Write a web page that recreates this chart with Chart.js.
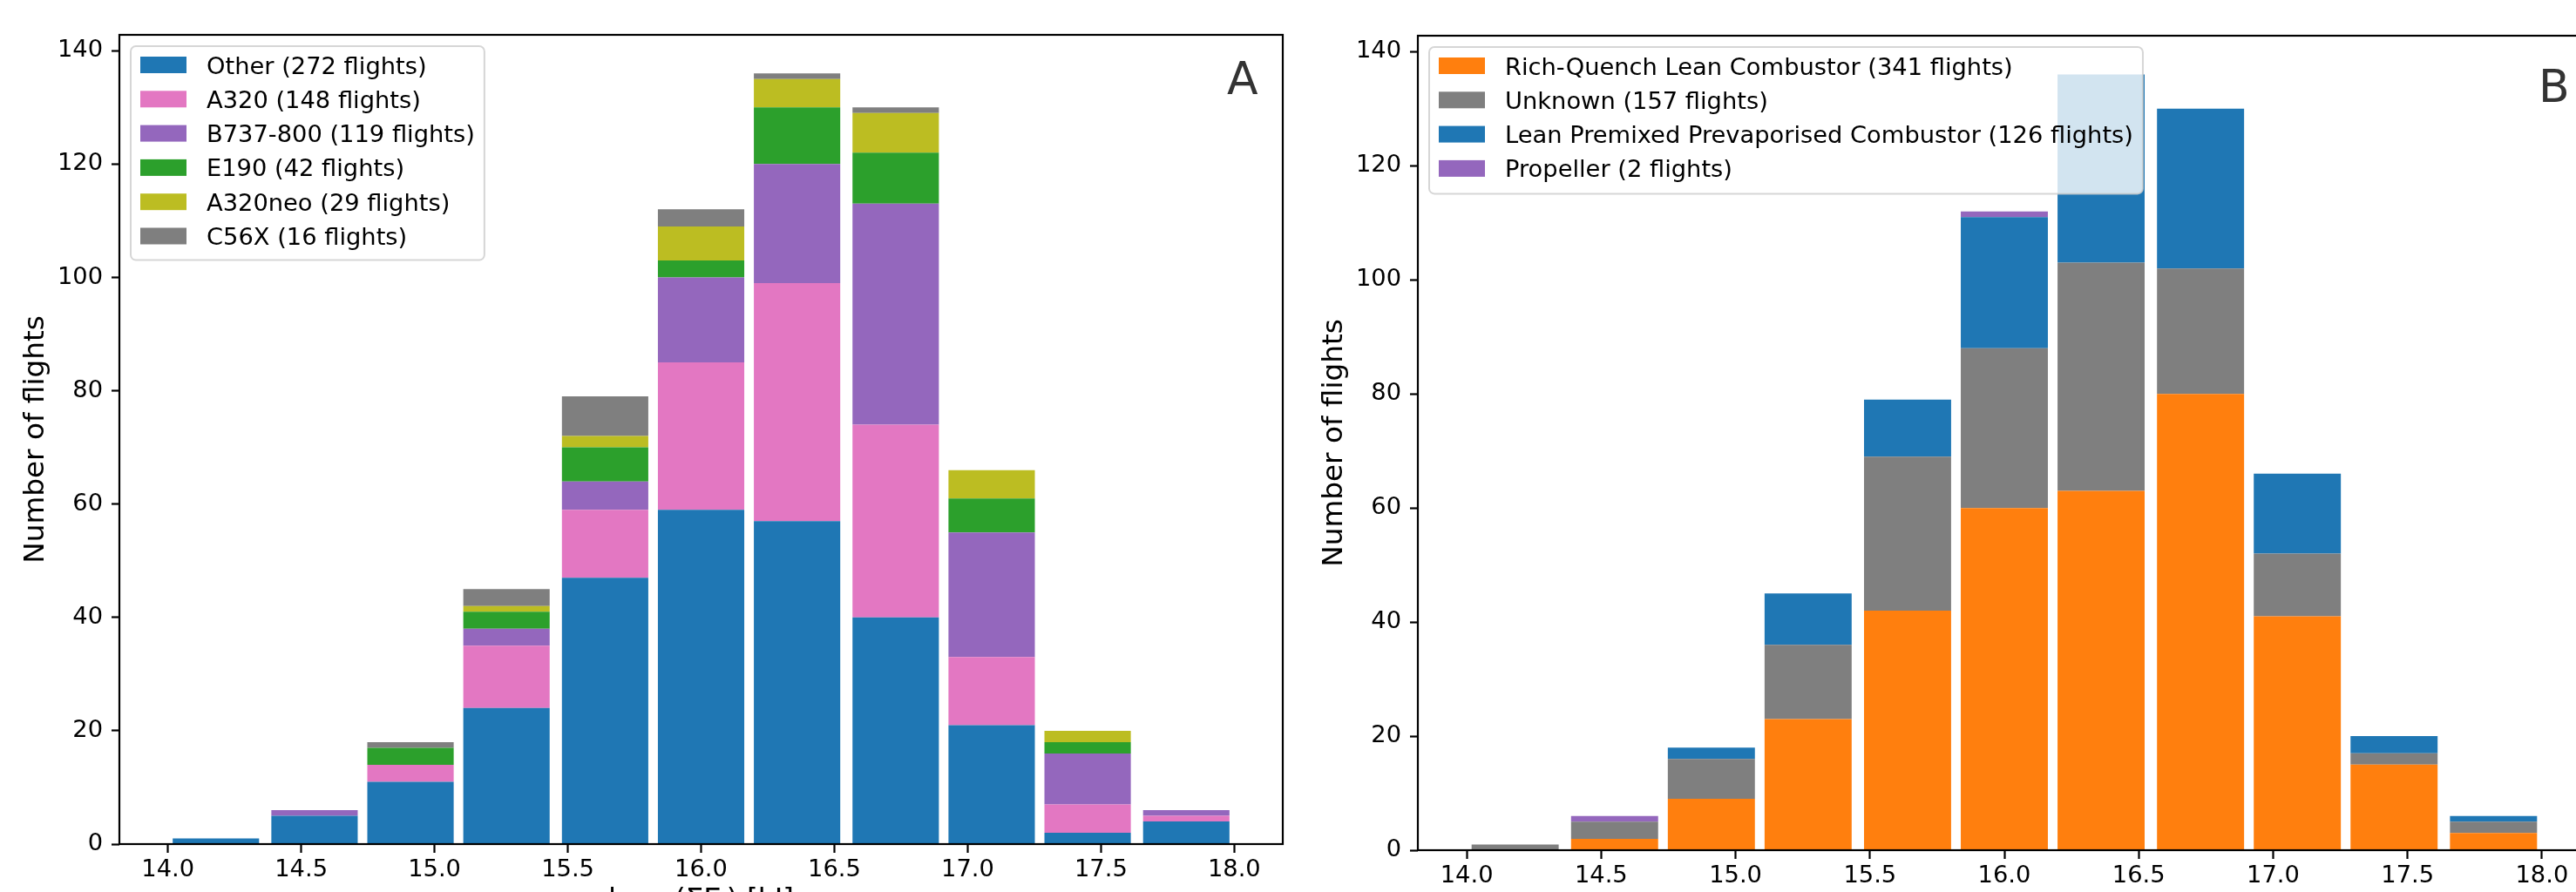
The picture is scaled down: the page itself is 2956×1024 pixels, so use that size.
<!DOCTYPE html>
<html>
<head>
<meta charset="utf-8">
<script src="https://cdn.jsdelivr.net/npm/chart.js@4/dist/chart.umd.min.js"></script>
<style>
html,body{margin:0;padding:0;background:#fff;}
#root{position:relative;width:2956px;height:1024px;overflow:hidden;background:#fff;}
.panel{position:absolute;top:0;}
#wrapA{left:0px;}
#wrapB{left:1490px;}
</style>
</head>
<body>
<div id="root">
  <div class="panel" id="wrapA"><canvas id="cA" width="1500" height="1080"></canvas></div>
  <div class="panel" id="wrapB"><canvas id="cB" width="1511" height="1087"></canvas></div>
</div>
<script>
// ---------- data ----------
const binCenters = [14.18, 14.55, 14.91, 15.27, 15.64, 16.00, 16.36, 16.73, 17.09, 17.45, 17.82];
const xTickValues = [14.0, 14.5, 15.0, 15.5, 16.0, 16.5, 17.0, 17.5, 18.0];
const yTickValues = [0, 20, 40, 60, 80, 100, 120, 140];
const yAxisTitle = 'Number of flights';
const xAxisTitle = 'log\u2081\u2080(\u03A3E\u1d62) [kJ]';

// Panel A: aircraft type
const aircraftLabels = ['Other (272 flights)', 'A320 (148 flights)', 'B737-800 (119 flights)',
                        'E190 (42 flights)', 'A320neo (29 flights)', 'C56X (16 flights)'];
const otherCounts   = [1, 5, 11, 24, 47, 59, 57, 40, 21, 2, 4];
const a320Counts    = [0, 0, 3, 11, 12, 26, 42, 34, 12, 5, 1];
const b737Counts    = [0, 1, 0, 3, 5, 15, 21, 39, 22, 9, 1];
const e190Counts    = [0, 0, 3, 3, 6, 3, 10, 9, 6, 2, 0];
const a320neoCounts = [0, 0, 0, 1, 2, 6, 5, 7, 5, 2, 0];
const c56xCounts    = [0, 0, 1, 3, 7, 3, 1, 1, 0, 0, 0];

// Panel B: combustor type
const combustorLabels = ['Rich-Quench Lean Combustor (341 flights)', 'Unknown (157 flights)',
                         'Lean Premixed Prevaporised Combustor (126 flights)', 'Propeller (2 flights)'];
const richQuenchCounts   = [0, 2, 9, 23, 42, 60, 63, 80, 41, 15, 3];
const unknownCounts      = [1, 3, 7, 13, 27, 28, 40, 22, 11, 2, 2];
const leanPremixedCounts = [0, 0, 2, 9, 10, 23, 33, 28, 14, 3, 1];
const propellerCounts    = [0, 1, 0, 0, 0, 1, 0, 0, 0, 0, 0];

// ---------- styles ----------
const C = {blue:'#1f77b4', orange:'#ff7f0e', green:'#2ca02c', purple:'#9467bd',
           pink:'#e377c2', gray:'#7f7f7f', olive:'#bcbd22'};
const FONT = '"DejaVu Sans", "Liberation Sans", sans-serif';
const TICK_SIZE = 27.3;
const LABEL_SIZE = 32.7;

function toPoints(vals) { return binCenters.map((c, i) => ({x: c, y: vals[i]})); }

const mplDecor = {
  id: 'mplDecor',
  afterDatasetsDraw(chart, args, o) {
    const {ctx, chartArea: a} = chart;
    ctx.save();
    // spines
    ctx.lineWidth = 2.2;
    ctx.strokeStyle = '#000';
    ctx.strokeRect(a.left, a.top, a.right - a.left, a.bottom - a.top);
    // legend
    const ds = chart.data.datasets;
    ctx.font = TICK_SIZE + 'px ' + FONT;
    const maxW = Math.max(...ds.map(d => ctx.measureText(d.label).width));
    const x0 = o.legendX, y0 = o.legendY;
    const w = 11 + 53 + 23 + maxW + 11;
    const h = 14 + 38.6 * ds.length;
    const r = 6;
    ctx.beginPath();
    ctx.moveTo(x0 + r, y0);
    ctx.lineTo(x0 + w - r, y0);
    ctx.arcTo(x0 + w, y0, x0 + w, y0 + r, r);
    ctx.lineTo(x0 + w, y0 + h - r);
    ctx.arcTo(x0 + w, y0 + h, x0 + w - r, y0 + h, r);
    ctx.lineTo(x0 + r, y0 + h);
    ctx.arcTo(x0, y0 + h, x0, y0 + h - r, r);
    ctx.lineTo(x0, y0 + r);
    ctx.arcTo(x0, y0, x0 + r, y0, r);
    ctx.closePath();
    ctx.fillStyle = 'rgba(255,255,255,0.8)';
    ctx.fill();
    ctx.lineWidth = 2;
    ctx.strokeStyle = 'rgba(204,204,204,0.8)';
    ctx.stroke();
    ds.forEach((d, i) => {
      const cy = y0 + 21.5 + i * 39.3;
      ctx.fillStyle = d.backgroundColor;
      ctx.fillRect(x0 + 11, cy - 9.5, 53, 19);
      ctx.fillStyle = '#000';
      ctx.textBaseline = 'alphabetic';
      ctx.textAlign = 'left';
      ctx.fillText(d.label, x0 + 87, cy + 10);
    });
    // panel tag
    ctx.font = '52px ' + FONT;
    ctx.fillStyle = '#333';
    ctx.textBaseline = 'alphabetic';
    ctx.fillText(o.tag, o.tagX, o.tagY);
    ctx.restore();
  }
};

function makeChart(id, labels, seriesList, colors, cfg) {
  const datasets = seriesList.map((vals, i) => ({
    label: labels[i],
    data: toPoints(vals),
    backgroundColor: colors[i],
    borderWidth: 0,
    barPercentage: 0.9,
    categoryPercentage: 1.0
  }));
  const totals = binCenters.map((_, i) => seriesList.reduce((s, v) => s + v[i], 0));
  const yMax = Math.max(...totals) * 1.05;
  return new Chart(document.getElementById(id), {
    type: 'bar',
    data: {datasets},
    plugins: [mplDecor],
    options: {
      responsive: false,
      animation: false,
      devicePixelRatio: 1,
      layout: {padding: {top: cfg.top, right: 28, left: 0, bottom: 0}},
      plugins: {
        legend: {display: false},
        tooltip: {enabled: false},
        mplDecor: {legendX: cfg.legendX, legendY: cfg.legendY, tag: cfg.tag, tagX: cfg.tagX, tagY: cfg.tagY}
      },
      scales: {
        x: {
          type: 'linear', stacked: true, offset: false,
          min: 13.818, max: 18.182,
          afterBuildTicks: s => { s.ticks = xTickValues.map(v => ({value: v})); },
          afterFit: s => { s.height = cfg.xHeight; },
          ticks: {callback: v => Number(v).toFixed(1), color: '#000', autoSkip: false, maxRotation: 0,
                  padding: 4, font: {family: FONT, size: TICK_SIZE}},
          grid: {display: true, drawOnChartArea: false, drawTicks: true, tickLength: 10,
                 tickWidth: 2.2, tickColor: '#000', offset: false},
          border: {display: false},
          title: {display: true, text: xAxisTitle, color: '#000',
                  font: {family: FONT, size: LABEL_SIZE}, padding: {top: 0, bottom: cfg.xTitlePad}}
        },
        y: {
          type: 'linear', stacked: true, min: 0, max: yMax,
          afterBuildTicks: s => { s.ticks = yTickValues.map(v => ({value: v})); },
          afterFit: s => { s.width = 137; },
          ticks: {callback: v => String(v), color: '#000', padding: 10,
                  font: {family: FONT, size: TICK_SIZE}},
          grid: {display: true, drawOnChartArea: false, drawTicks: true, tickLength: 9,
                 tickWidth: 2.2, tickColor: '#000'},
          border: {display: false},
          title: {display: true, text: yAxisTitle, color: '#000',
                  font: {family: FONT, size: LABEL_SIZE}, padding: {top: 22, bottom: 0}}
        }
      }
    }
  });
}

makeChart('cA', aircraftLabels,
  [otherCounts, a320Counts, b737Counts, e190Counts, a320neoCounts, c56xCounts],
  [C.blue, C.pink, C.purple, C.green, C.olive, C.gray],
  {top: 40, xHeight: 111, xTitlePad: 27, legendX: 150, legendY: 53, tag: 'A', tagX: 1408, tagY: 108});

makeChart('cB', combustorLabels,
  [richQuenchCounts, unknownCounts, leanPremixedCounts, propellerCounts],
  [C.orange, C.gray, C.blue, C.purple],
  {top: 41, xHeight: 111, xTitlePad: 27, legendX: 150, legendY: 54, tag: 'B', tagX: 1423, tagY: 117});
</script>
</body>
</html>
